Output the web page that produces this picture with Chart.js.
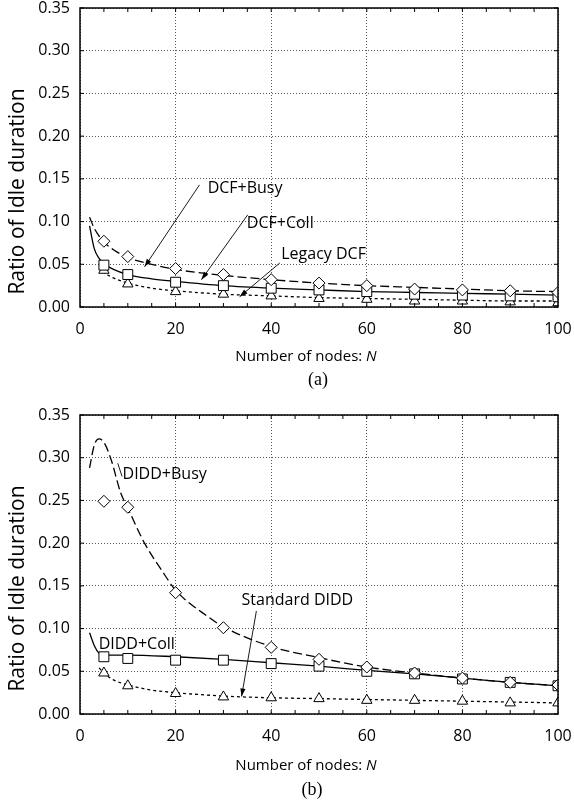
<!DOCTYPE html>
<html><head><meta charset="utf-8">
<script src="https://cdn.jsdelivr.net/npm/chart.js@4.4.1/dist/chart.umd.min.js"></script>
<style>
html,body{margin:0;padding:0;background:#fff;}
#wrap{position:relative;width:574px;height:807px;overflow:hidden;background:#fff;}
canvas{position:absolute;left:0;}
</style></head><body>
<div id="wrap">
<canvas id="ca" width="574" height="395" style="top:0px"></canvas>
<canvas id="cb" width="574" height="412" style="top:395px"></canvas>
</div>
<script>
// ---------- shared ----------
const xTickValues = [0, 20, 40, 60, 80, 100];
const yTickValues = [0, 0.05, 0.10, 0.15, 0.20, 0.25, 0.30, 0.35];
const simN = [5, 10, 20, 30, 40, 50, 60, 70, 80, 90, 100];

// ---------- panel (a) ----------
const dcfBusySim   = [0.077, 0.059, 0.045, 0.038, 0.032, 0.028, 0.025, 0.021, 0.020, 0.019, 0.017];
const dcfCollSim   = [0.049, 0.038, 0.029, 0.025, 0.022, 0.020, 0.018, 0.015, 0.014, 0.013, 0.012];
const legacySim    = [0.043, 0.027, 0.018, 0.015, 0.013, 0.010, 0.009, 0.007, 0.007, 0.006, 0.005];

const dcfBusyCurveN = [2, 3, 4, 5, 7, 10, 15, 20, 30, 40, 50, 60, 70, 80, 90, 100];
const dcfBusyCurve  = [0.105, 0.092, 0.083, 0.076, 0.067, 0.058, 0.050, 0.044, 0.037, 0.032, 0.028, 0.025, 0.023, 0.021, 0.019, 0.018];
const dcfCollCurveN = [2, 3, 4, 5, 7, 10, 15, 20, 30, 40, 50, 60, 70, 80, 90, 100];
const dcfCollCurve  = [0.095, 0.068, 0.057, 0.051, 0.044, 0.038, 0.033, 0.030, 0.025, 0.022, 0.020, 0.018, 0.017, 0.016, 0.015, 0.014];
const legacyCurveN  = [4, 5, 7, 10, 15, 20, 30, 40, 50, 60, 70, 80, 90, 100];
const legacyCurve   = [0.048, 0.041, 0.034, 0.028, 0.022, 0.019, 0.015, 0.013, 0.011, 0.010, 0.009, 0.008, 0.007, 0.007];

const labelsA   = ['DCF+Busy', 'DCF+Coll', 'Legacy DCF'];
const labelPosA = [[26.7, 0.139], [34.9, 0.098], [42.1, 0.061]];
const arrowsA   = [[[25.0, 0.143], [13.5, 0.047]], [[35.1, 0.108], [25.4, 0.032]], [[41.8, 0.0515], [33.4, 0.012]]];

// ---------- panel (b) ----------
const diddBusySim  = [0.249, 0.242, 0.142, 0.101, 0.078, 0.064, 0.055, 0.048, 0.042, 0.037, 0.034];
const diddCollSim  = [0.067, 0.065, 0.063, 0.063, 0.059, 0.056, 0.050, 0.047, 0.041, 0.037, 0.033];
const standardSim  = [0.048, 0.033, 0.024, 0.020, 0.019, 0.018, 0.016, 0.016, 0.015, 0.013, 0.013];

const diddBusyCurveN = [2, 3, 4, 5, 6.5, 8.5, 10, 13.5, 17, 20, 27, 30, 40, 50, 60, 70, 80, 90, 100];
const diddBusyCurve  = [0.288, 0.315, 0.322, 0.318, 0.298, 0.259, 0.241, 0.200, 0.169, 0.145, 0.113, 0.102, 0.079, 0.066, 0.055, 0.048, 0.042, 0.037, 0.033];
const diddCollCurveN = [2, 3, 4, 5, 10, 20, 30, 40, 50, 60, 70, 80, 90, 100];
const diddCollCurve  = [0.095, 0.080, 0.071, 0.069, 0.069, 0.067, 0.064, 0.060, 0.056, 0.051, 0.047, 0.042, 0.037, 0.033];
const standardCurveN = [4, 5, 7, 10, 15, 20, 30, 40, 50, 60, 70, 80, 90, 100];
const standardCurve  = [0.054, 0.048, 0.040, 0.034, 0.028, 0.025, 0.021, 0.019, 0.018, 0.017, 0.016, 0.015, 0.014, 0.013];

const labelsB   = ['DIDD+Busy', 'DIDD+Coll', 'Standard DIDD'];
const labelPosB = [[8.9, 0.281], [3.9, 0.082], [33.8, 0.1335]];
const arrowsB   = [[[7.9, 0.2935], [8.8, 0.278], false], null, [[36.9, 0.1206], [33.8, 0.0205], true]];

const FONT = '"Open Sans", "Liberation Sans", sans-serif';

function pts(xs, ys) { return xs.map((v, i) => ({ x: v, y: ys[i] })); }

function curve(xs, ys, dash) {
  return { data: pts(xs, ys), showLine: true, borderColor: '#000', borderWidth: 1.3, borderDash: dash,
           pointRadius: 0, cubicInterpolationMode: 'monotone', fill: false, order: 2 };
}
function marks(xs, ys, style, r) {
  return { data: pts(xs, ys), showLine: false, pointStyle: style, pointRadius: r,
           pointBackgroundColor: '#fff', pointBorderColor: '#000', pointBorderWidth: 1, order: 1 };
}

const deco = {
  id: 'deco',
  afterDatasetsDraw(chart, args, o) {
    const { ctx, chartArea: a, scales: { x, y } } = chart;
    ctx.save();
    // frame
    ctx.strokeStyle = '#000'; ctx.lineWidth = 1.5; ctx.setLineDash([]);
    ctx.strokeRect(a.left, a.top, a.right - a.left, a.bottom - a.top);
    // minor inward ticks
    ctx.lineWidth = 1;
    ctx.beginPath();
    for (let n = 5; n < 100; n += 5) {
      const px = x.getPixelForValue(n);
      ctx.moveTo(px, a.bottom); ctx.lineTo(px, a.bottom - 4);
      ctx.moveTo(px, a.top); ctx.lineTo(px, a.top + 4);
    }
    yTickValues.forEach(v => {
      const py = y.getPixelForValue(v);
      ctx.moveTo(a.left, py); ctx.lineTo(a.left + 4, py);
      ctx.moveTo(a.right, py); ctx.lineTo(a.right - 4, py);
    });
    ctx.stroke();
    // annotations
    ctx.fillStyle = '#000';
    ctx.font = '16px ' + FONT;
    ctx.textAlign = 'left'; ctx.textBaseline = 'middle';
    o.labels.forEach((t, i) => {
      ctx.fillText(t, x.getPixelForValue(o.pos[i][0]), y.getPixelForValue(o.pos[i][1]));
      const ar = o.arrows[i];
      if (!ar) return;
      const x1 = x.getPixelForValue(ar[0][0]), y1 = y.getPixelForValue(ar[0][1]);
      const x2 = x.getPixelForValue(ar[1][0]), y2 = y.getPixelForValue(ar[1][1]);
      ctx.lineWidth = 0.9;
      ctx.beginPath(); ctx.moveTo(x1, y1); ctx.lineTo(x2, y2); ctx.stroke();
      if (ar[2] === false) return;
      const ang = Math.atan2(y2 - y1, x2 - x1), L = 8, W = 2.6;
      ctx.beginPath();
      ctx.moveTo(x2, y2);
      ctx.lineTo(x2 - L * Math.cos(ang) + W * Math.sin(ang), y2 - L * Math.sin(ang) - W * Math.cos(ang));
      ctx.lineTo(x2 - L * Math.cos(ang) - W * Math.sin(ang), y2 - L * Math.sin(ang) + W * Math.cos(ang));
      ctx.closePath(); ctx.fill();
    });
    // y title
    ctx.save();
    ctx.font = '21px ' + FONT;
    ctx.textAlign = 'center'; ctx.textBaseline = 'middle';
    ctx.translate(18, (a.top + a.bottom) / 2 + o.yTitleShift);
    ctx.rotate(-Math.PI / 2);
    ctx.fillText('Ratio of Idle duration', 0, 0);
    ctx.restore();
    // x title with italic N
    const f1 = '15px ' + FONT, f2 = 'italic 15px ' + FONT;
    ctx.font = f1; const s1 = 'Number of nodes: '; const w1 = ctx.measureText(s1).width;
    ctx.font = f2; const w2 = ctx.measureText('N').width;
    const cx = o.xTitleX, ty = a.bottom + o.xTitleDy;
    ctx.textAlign = 'left';
    ctx.font = f1; ctx.fillText(s1, cx - (w1 + w2) / 2, ty);
    ctx.font = f2; ctx.fillText('N', cx - (w1 + w2) / 2 + w1, ty);
    // panel letter
    ctx.font = '18px "Liberation Serif", "Times New Roman", serif';
    ctx.textAlign = 'center';
    ctx.fillText(o.letter, o.letterX, a.bottom + o.letterDy);
    ctx.restore();
  }
};

function build(id, datasets, H, top, plotBottom, opts) {
  new Chart(document.getElementById(id), {
    type: 'scatter',
    data: { datasets },
    plugins: [deco],
    options: {
      responsive: false, animation: false, devicePixelRatio: 1,
      layout: { padding: { top: top, right: 16, left: 0, bottom: 0 } },
      plugins: { legend: { display: false }, tooltip: { enabled: false }, deco: opts },
      scales: {
        x: {
          type: 'linear', min: 0, max: 100,
          afterFit: s => { s.height = H - plotBottom; s.paddingLeft = 0; s.paddingRight = 0; },
          afterBuildTicks: s => { s.ticks = xTickValues.map(v => ({ value: v })); },
          ticks: { color: '#000', font: { family: FONT, size: 16 }, padding: 13, maxRotation: 0 },
          grid: { color: '#555', lineWidth: 1, drawTicks: false },
          border: { display: false, dash: [1, 2] }
        },
        y: {
          type: 'linear', min: 0, max: 0.35,
          afterFit: s => { s.width = 80; s.paddingTop = 0; s.paddingBottom = 0; },
          afterBuildTicks: s => { s.ticks = yTickValues.map(v => ({ value: v })); },
          ticks: { color: '#000', font: { family: FONT, size: 16 }, padding: 10,
                   callback: v => Number(v).toFixed(2) },
          grid: { color: '#555', lineWidth: 1, drawTicks: false },
          border: { display: false, dash: [1, 2] }
        }
      }
    }
  });
}

build('ca', [
  marks(simN, dcfBusySim, 'rectRot', 6),
  marks(simN, dcfCollSim, 'rect', 7),
  marks(simN, legacySim, 'triangle', 6),
  curve(dcfBusyCurveN, dcfBusyCurve, [9, 4]),
  curve(dcfCollCurveN, dcfCollCurve, []),
  curve(legacyCurveN, legacyCurve, [3, 3])
], 395, 8, 307, { labels: labelsA, pos: labelPosA, arrows: arrowsA, yTitleShift: 34,
                  xTitleX: 306, xTitleDy: 50, letter: '(a)', letterX: 318, letterDy: 73 });

build('cb', [
  marks(simN, diddBusySim, 'rectRot', 6),
  marks(simN, diddCollSim, 'rect', 7),
  marks(simN, standardSim, 'triangle', 6),
  curve(diddBusyCurveN, diddBusyCurve, [9, 4]),
  curve(diddCollCurveN, diddCollCurve, []),
  curve(standardCurveN, standardCurve, [3, 3])
], 412, 20, 319, { labels: labelsB, pos: labelPosB, arrows: arrowsB, yTitleShift: 24,
                   xTitleX: 306, xTitleDy: 52, letter: '(b)', letterX: 312, letterDy: 76 });
</script>
</body></html>
